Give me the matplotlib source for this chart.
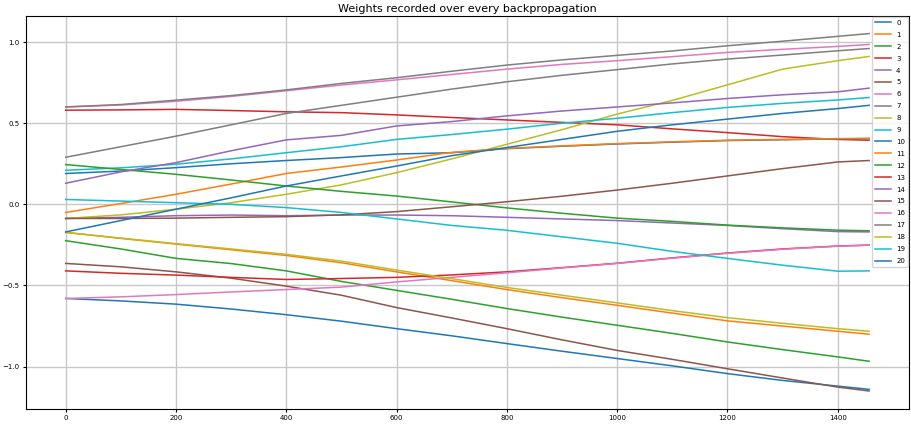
import matplotlib
matplotlib.use("Agg")
import matplotlib.pyplot as plt

steps = [0, 100, 200, 300, 400, 500, 600, 700, 800, 900, 1000, 1100, 1200, 1300, 1400, 1457]

w0 = [-0.58, -0.595, -0.615, -0.645, -0.68, -0.72, -0.766, -0.81, -0.858, -0.905, -0.95, -0.995, -1.043, -1.085, -1.12, -1.14]
w1 = [-0.173, -0.21, -0.245, -0.28, -0.315, -0.36, -0.416, -0.47, -0.525, -0.575, -0.622, -0.67, -0.718, -0.75, -0.782, -0.80]
w2 = [-0.224, -0.275, -0.333, -0.365, -0.41, -0.475, -0.53, -0.585, -0.642, -0.695, -0.745, -0.795, -0.848, -0.895, -0.94, -0.967]
w3 = [0.58, 0.582, 0.585, 0.578, 0.57, 0.565, 0.551, 0.535, 0.52, 0.505, 0.49, 0.465, 0.442, 0.417, 0.40, 0.395]
w4 = [-0.087, -0.08, -0.07, -0.066, -0.07, -0.066, -0.066, -0.07, -0.08, -0.09, -0.10, -0.115, -0.13, -0.15, -0.168, -0.17]
w5 = [-0.364, -0.385, -0.416, -0.455, -0.504, -0.56, -0.636, -0.70, -0.766, -0.835, -0.90, -0.955, -1.013, -1.07, -1.126, -1.15]
w6 = [0.60, 0.612, 0.635, 0.665, 0.70, 0.735, 0.767, 0.80, 0.833, 0.862, 0.885, 0.91, 0.936, 0.955, 0.973, 0.985]
w7 = [0.29, 0.355, 0.42, 0.49, 0.56, 0.61, 0.66, 0.71, 0.755, 0.795, 0.83, 0.865, 0.895, 0.92, 0.946, 0.96]
w8 = [-0.087, -0.065, -0.03, 0.01, 0.062, 0.12, 0.195, 0.28, 0.37, 0.46, 0.556, 0.64, 0.736, 0.833, 0.885, 0.911]
w9 = [0.21, 0.225, 0.247, 0.28, 0.318, 0.355, 0.40, 0.43, 0.463, 0.50, 0.53, 0.565, 0.597, 0.622, 0.643, 0.658]
w10 = [0.19, 0.205, 0.226, 0.25, 0.27, 0.288, 0.31, 0.318, 0.343, 0.358, 0.372, 0.383, 0.393, 0.398, 0.403, 0.405]
w11 = [-0.05, 0.005, 0.062, 0.125, 0.19, 0.23, 0.273, 0.32, 0.345, 0.36, 0.374, 0.385, 0.395, 0.40, 0.405, 0.407]
w12 = [0.245, 0.215, 0.185, 0.15, 0.113, 0.08, 0.051, 0.015, -0.022, -0.055, -0.085, -0.105, -0.128, -0.145, -0.159, -0.163]
w13 = [-0.41, -0.425, -0.436, -0.45, -0.463, -0.457, -0.45, -0.435, -0.416, -0.39, -0.363, -0.33, -0.30, -0.275, -0.257, -0.251]
w14 = [0.13, 0.20, 0.257, 0.33, 0.397, 0.425, 0.483, 0.51, 0.545, 0.575, 0.60, 0.625, 0.652, 0.675, 0.693, 0.716]
w15 = [-0.087, -0.087, -0.085, -0.08, -0.076, -0.065, -0.045, -0.015, 0.016, 0.05, 0.088, 0.13, 0.175, 0.22, 0.261, 0.27]
w16 = [-0.58, -0.57, -0.556, -0.54, -0.525, -0.51, -0.478, -0.45, -0.422, -0.392, -0.364, -0.332, -0.302, -0.277, -0.258, -0.252]
w17 = [0.60, 0.615, 0.642, 0.67, 0.705, 0.745, 0.78, 0.82, 0.858, 0.89, 0.918, 0.945, 0.977, 1.005, 1.035, 1.052]
w18 = [-0.173, -0.208, -0.242, -0.275, -0.308, -0.35, -0.405, -0.458, -0.512, -0.56, -0.607, -0.655, -0.698, -0.733, -0.766, -0.782]
w19 = [0.03, 0.02, 0.01, 0.0, -0.02, -0.05, -0.09, -0.13, -0.16, -0.20, -0.24, -0.29, -0.333, -0.375, -0.412, -0.41]
w20 = [-0.17, -0.10, -0.03, 0.04, 0.113, 0.175, 0.236, 0.30, 0.35, 0.40, 0.45, 0.49, 0.525, 0.56, 0.59, 0.61]

weights = [w0, w1, w2, w3, w4, w5, w6, w7, w8, w9, w10,
           w11, w12, w13, w14, w15, w16, w17, w18, w19, w20]

fig, ax = plt.subplots(figsize=(9.12, 4.25), dpi=100)
fig.subplots_adjust(left=0.028, right=0.997, bottom=0.038, top=0.963)

for i, w in enumerate(weights):
    ax.plot(steps, w, linewidth=1.1, label=str(i))

ax.set_title("Weights recorded over every backpropagation", fontsize=8, pad=3)
ax.tick_params(labelsize=5, length=2.5, pad=2)
ax.grid(True, color="#c8c8c8", linewidth=1.0)
ax.legend(loc="upper right", fontsize=5, handlelength=2.3, borderaxespad=0.2,
          labelspacing=0.85)

fig.savefig("out.png", dpi=100)
